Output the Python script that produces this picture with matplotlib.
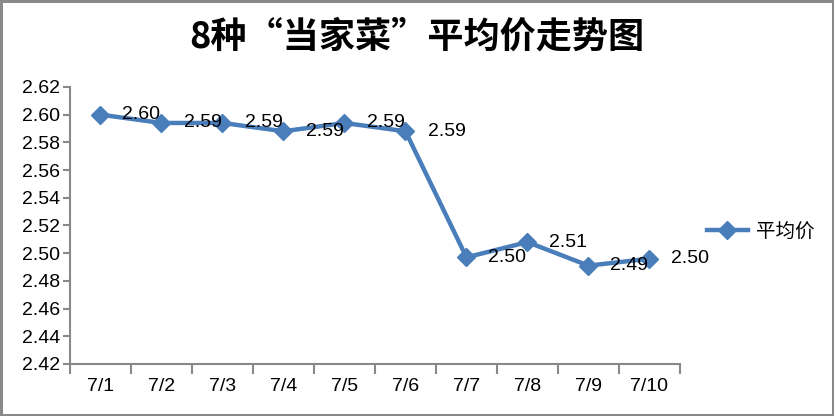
import numpy as np
import matplotlib.pyplot as plt

plt.rcParams['font.family'] = ['Liberation Sans', 'Noto Sans CJK SC', 'DejaVu Sans']

dates = ['7/1', '7/2', '7/3', '7/4', '7/5', '7/6', '7/7', '7/8', '7/9', '7/10']
prices = [2.600, 2.594, 2.594, 2.588, 2.594, 2.588, 2.497, 2.508, 2.491, 2.496]
yticks = [2.42, 2.44, 2.46, 2.48, 2.50, 2.52, 2.54, 2.56, 2.58, 2.60, 2.62]

blue = '#4A7EBB'
gray = '#898989'

fig = plt.figure(figsize=(8.34, 4.16), dpi=100, edgecolor=gray, linewidth=2.5)
ax = fig.add_axes([0.0839, 0.125, 0.7314, 0.666])

x = np.arange(len(dates))
ax.plot(x, prices, color=blue, lw=3.2, marker='D', ms=9.5, label='平均价')

for xi, v in zip(x, prices):
    ax.annotate(f'{v:.2f}', (xi, v), xytext=(41, 0), textcoords='offset pixels',
                ha='center', va='center', fontsize=14)

ax.set_xlim(-0.5, len(dates) - 0.5)
ax.set_ylim(2.42, 2.62)
ax.set_yticks(yticks)
ax.set_yticklabels([f'{t:.2f}' for t in yticks], fontsize=14)
ax.set_xticks(x)
ax.set_xticklabels(dates, fontsize=14)
ax.set_xticks(np.arange(-0.5, len(dates)), minor=True)
ax.tick_params(axis='x', which='major', length=0, pad=10)
ax.tick_params(axis='x', which='minor', length=7, width=1.5, color=gray, direction='out')
ax.tick_params(axis='y', length=5, width=1.5, color=gray, direction='out', pad=2)

for s in ['top', 'right']:
    ax.spines[s].set_visible(False)
for s in ['left', 'bottom']:
    ax.spines[s].set_color(gray)
    ax.spines[s].set_linewidth(1.5)

fig.suptitle('8种“当家菜”平均价走势图', x=0.5, y=0.955, fontsize=26, fontweight='bold',
             family=['Noto Sans CJK SC', 'DejaVu Sans'])

fig.legend(loc='center left', bbox_to_anchor=(0.836, 0.442), frameon=False,
           fontsize=14, handlelength=2.1, handletextpad=0.4, borderpad=0)

fig.savefig('out.png', dpi=100, edgecolor=fig.get_edgecolor())
